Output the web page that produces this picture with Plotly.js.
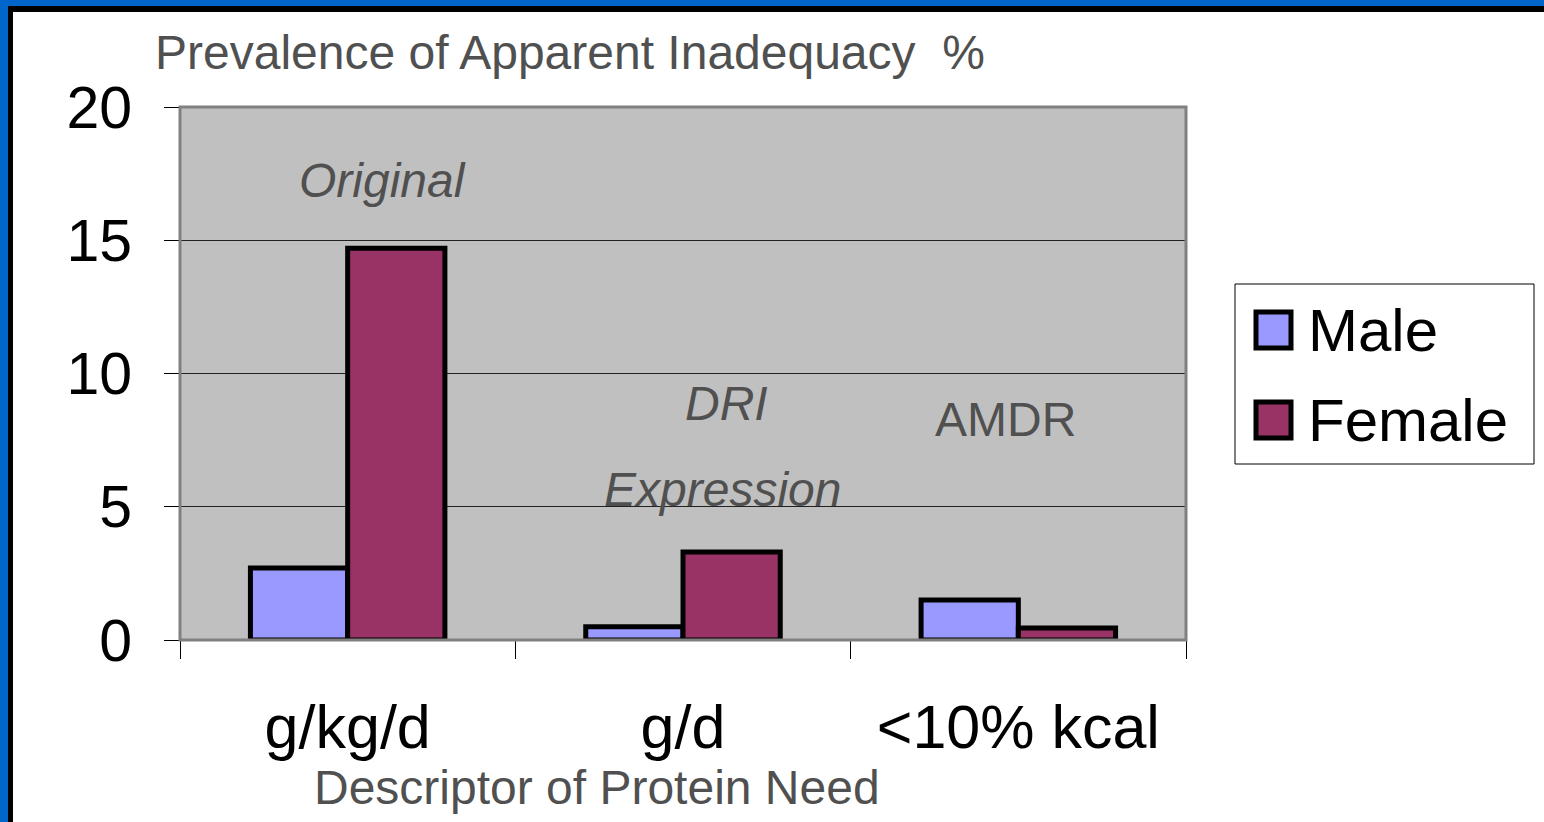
<!DOCTYPE html>
<html>
<head>
<meta charset="utf-8">
<script src="https://cdn.plot.ly/plotly-3.0.1.min.js"></script>
<style>
  html, body { margin: 0; padding: 0; background: #ffffff; overflow: hidden; }
  #wrap { position: relative; width: 1544px; height: 822px; }
  #chart { position: absolute; left: 0; top: 0; width: 1544px; height: 822px; }
  #frameBlue { position: absolute; left: 0; top: 0; width: 1544px; height: 822px; box-sizing: border-box;
               border-top: 6px solid #0066CC; border-left: 8px solid #0066CC; pointer-events: none; }
  #frameBlack { position: absolute; left: 8px; top: 6px; width: 1536px; height: 816px; box-sizing: border-box;
                border-top: 6px solid #000000; border-left: 5px solid #000000; pointer-events: none; }
</style>
</head>
<body>
<div id="wrap">
  <div id="chart"></div>
  <div id="frameBlue"></div>
  <div id="frameBlack"></div>
</div>
<script>
// ---- data ----
const categories = ["g/kg/d", "g/d", "<10% kcal"];
const seriesNames = ["Male", "Female"];
const maleValues = [2.7, 0.5, 1.5];
const femaleValues = [14.7, 3.3, 0.45];
const yTickValues = [0, 5, 10, 15, 20];
const yTickLabels = ["0", "5", "10", "15", "20"];
const chartTitle = "Prevalence of Apparent Inadequacy  %";
const xAxisTitle = "Descriptor of Protein Need";
const groupLabels = [
  { text: "<i>Original</i>", x: 0.105, y: 17.26 },
  { text: "<i>DRI</i>", x: 1.131, y: 8.89 },
  { text: "<i>Expression</i>", x: 1.119, y: 5.63 },
  { text: "AMDR", x: 1.963, y: 8.26 }
];

// ---- style ----
const colors = ["#9999FF", "#993366"];
const FONT = "Liberation Sans, Arial, Helvetica, sans-serif";
const GRAY_TEXT = "#505050";

// plot area in pixels
const L = 180, R = 1186, T = 107, B = 640;
const W = R - L, H = B - T;
const px = x => (x - L) / W;
const py = y => (B - y) / H;

const traces = [
  { type: "bar", name: seriesNames[0], x: categories, y: maleValues,
    marker: { color: colors[0], line: { color: "#000000", width: 5 } }, showlegend: false, hoverinfo: "x+y+name" },
  { type: "bar", name: seriesNames[1], x: categories, y: femaleValues,
    marker: { color: colors[1], line: { color: "#000000", width: 5 } }, showlegend: false, hoverinfo: "x+y+name" }
];

const annotations = groupLabels.map(g => ({
  text: g.text, x: g.x, y: g.y, xref: "x", yref: "y", showarrow: false,
  xanchor: "center", yanchor: "middle",
  font: { family: FONT, size: 48, color: GRAY_TEXT }
}));

annotations.push({
  text: xAxisTitle, xref: "paper", yref: "paper", x: px(597), y: py(787),
  xanchor: "center", yanchor: "middle", showarrow: false,
  font: { family: FONT, size: 48, color: GRAY_TEXT }
});

// custom legend (large symbols)
const shapes = [
  { type: "rect", xref: "paper", yref: "paper", x0: 0, x1: 1, y0: 0, y1: 1,
    line: { color: "#808080", width: 3 }, fillcolor: "rgba(0,0,0,0)", layer: "above" },
  { type: "rect", xref: "paper", yref: "paper", x0: px(1235), x1: px(1534), y0: py(464), y1: py(284),
    line: { color: "#000000", width: 1 }, fillcolor: "#ffffff" }
];
const legendRows = [330, 420];
seriesNames.forEach((name, i) => {
  const cy = legendRows[i];
  shapes.push({ type: "rect", xref: "paper", yref: "paper",
    x0: px(1256), x1: px(1291), y0: py(cy + 18), y1: py(cy - 18),
    line: { color: "#000000", width: 5 }, fillcolor: colors[i] });
  annotations.push({ text: name, xref: "paper", yref: "paper", x: px(1306), y: py(cy),
    xanchor: "left", yanchor: "middle", showarrow: false,
    font: { family: FONT, size: 60, color: "#000000" } });
});

const layout = {
  width: 1544, height: 822,
  margin: { l: L, r: 1544 - R, t: T, b: 822 - B, pad: 0 },
  paper_bgcolor: "#ffffff",
  plot_bgcolor: "#C0C0C0",
  barmode: "group",
  bargap: 0.42,
  bargroupgap: 0,
  showlegend: false,
  title: {
    text: chartTitle, xref: "container", yref: "container",
    x: 155 / 1544, xanchor: "left", y: 1 - 52 / 822, yanchor: "middle",
    font: { family: FONT, size: 48, color: GRAY_TEXT }
  },
  xaxis: {
    type: "category",
    tickson: "boundaries",
    ticks: "outside", ticklen: 18, tickwidth: 1, tickcolor: "#000000",
    tickfont: { family: FONT, size: 61, color: "#000000" },
    ticklabelstandoff: 46,
    showgrid: false, zeroline: false, showline: false,
    fixedrange: true
  },
  yaxis: {
    range: [0, 20],
    tickvals: yTickValues, ticktext: yTickLabels,
    ticks: "outside", ticklen: 15, tickwidth: 1, tickcolor: "#000000",
    tickfont: { family: FONT, size: 59, color: "#000000" },
    ticklabelstandoff: 20,
    showgrid: true, gridcolor: "#222222", gridwidth: 1,
    zeroline: false, showline: false,
    fixedrange: true
  },
  shapes: shapes,
  annotations: annotations,
  font: { family: FONT }
};

Plotly.newPlot("chart", traces, layout, { displayModeBar: false, staticPlot: true });
</script>
</body>
</html>
